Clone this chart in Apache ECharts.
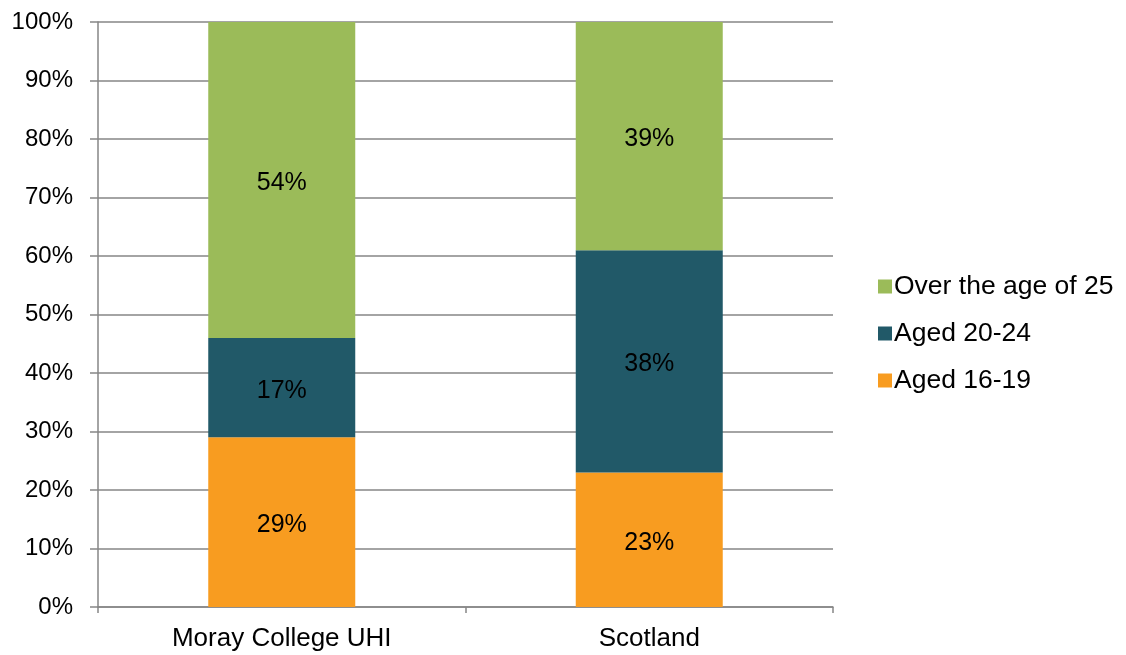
<!DOCTYPE html>
<html><head><meta charset="utf-8">
<script src="https://cdn.jsdelivr.net/npm/echarts@6/dist/echarts.min.js"></script>
<style>html,body{margin:0;padding:0;background:#fff}#c{width:1126px;height:655px}</style>
</head><body><div id="c"></div>
<script>
const categories = ["Moray College UHI", "Scotland"];
const aged1619 = [29, 23];
const aged2024 = [17, 38];
const over25 = [54, 39];
const seriesNames = ["Aged 16-19", "Aged 20-24", "Over the age of 25"];
const colors = ["#F89C20", "#215968", "#9BBB59"];
const font = "Liberation Sans, Arial, sans-serif";
const lbl = {show:true, position:'inside', color:'#000', fontSize:25, fontFamily:font, offset:[0,3], formatter: p => p.value + '%'};
const chart = echarts.init(document.getElementById('c'));
chart.setOption({
  animation:false,
  grid:{left:98, right:293, top:22, bottom:48},
  legend:{orient:'vertical', left:873, top:268, itemWidth:14, itemHeight:14, itemGap:20,
    icon:'rect', data:[seriesNames[2], seriesNames[1], seriesNames[0]],
    textStyle:{fontSize:26.5, fontFamily:font, color:'#000', padding:[0,0,0,-3]}},
  xAxis:{type:'category', data:categories, boundaryGap:true,
    axisLine:{lineStyle:{color:'#868686', width:1.5}},
    axisTick:{show:true, length:6, lineStyle:{color:'#868686', width:1.5}},
    axisLabel:{fontSize:26, fontFamily:font, color:'#000', margin:19}},
  yAxis:{type:'value', min:0, max:100, interval:10,
    axisLine:{show:true, lineStyle:{color:'#868686', width:1.5}},
    axisTick:{show:true, length:8, lineStyle:{color:'#868686', width:1.5}},
    splitLine:{lineStyle:{color:'#868686', width:1.5}},
    axisLabel:{fontSize:24, fontFamily:font, color:'#000', margin:25, formatter:'{value}%'}},
  series:[
    {name:seriesNames[0], type:'bar', stack:'a', barWidth:'40%', data:aged1619, itemStyle:{color:colors[0]}, label:lbl},
    {name:seriesNames[1], type:'bar', stack:'a', barWidth:'40%', data:aged2024, itemStyle:{color:colors[1]}, label:lbl},
    {name:seriesNames[2], type:'bar', stack:'a', barWidth:'40%', data:over25, itemStyle:{color:colors[2]}, label:lbl}
  ]
});
</script></body></html>
